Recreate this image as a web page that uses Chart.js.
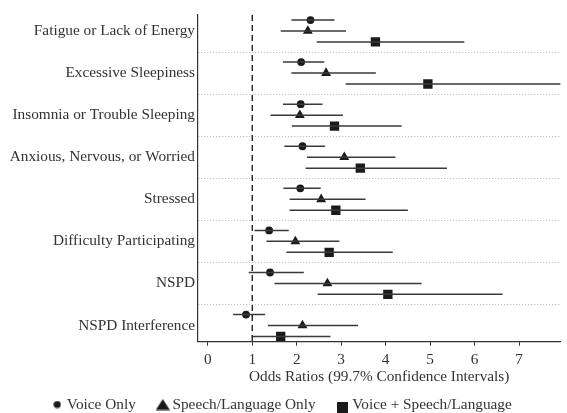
<!DOCTYPE html>
<html>
<head>
<meta charset="utf-8">
<script src="https://cdn.jsdelivr.net/npm/chart.js@4"></script>
<style>
  html, body { margin: 0; padding: 0; background: #fff; }
  #wrap { width: 567px; height: 413px; position: relative; }
</style>
</head>
<body>
<div id="wrap"><canvas id="chart"></canvas></div>
<script>
// 数据
const categories = [
    'Fatigue or Lack of Energy',
    'Excessive Sleepiness',
    'Insomnia or Trouble Sleeping',
    'Anxious, Nervous, or Worried',
    'Stressed',
    'Difficulty Participating',
    'NSPD',
    'NSPD Interference'
];
const seriesNames = ['Voice Only', 'Speech/Language Only', 'Voice + Speech/Language'];

const voiceOR  = [2.31, 2.10, 2.09, 2.13, 2.08, 1.38, 1.40, 0.86];
const voiceLo  = [1.88, 1.69, 1.69, 1.72, 1.70, 1.05, 0.92, 0.57];
const voiceHi  = [2.85, 2.62, 2.58, 2.64, 2.54, 1.82, 2.16, 1.29];

const speechOR = [2.25, 2.66, 2.07, 3.07, 2.55, 1.97, 2.69, 2.13];
const speechLo = [1.64, 1.88, 1.41, 2.23, 1.84, 1.32, 1.50, 1.35];
const speechHi = [3.11, 3.78, 3.04, 4.22, 3.55, 2.96, 4.81, 3.38];

const bothOR   = [3.77, 4.95, 2.85, 3.43, 2.88, 2.73, 4.05, 1.64];
const bothLo   = [2.45, 3.10, 1.89, 2.20, 1.84, 1.77, 2.47, 0.99];
const bothHi   = [5.77, 8.60, 4.36, 5.38, 4.50, 4.16, 6.63, 2.76];

const xTicks = [0, 1, 2, 3, 4, 5, 6, 7];
const refLine = 1;

// 样式
const FONT = "'Liberation Serif', 'DejaVu Serif', serif";
const FONT_SIZE = 15.3;
const TEXT = '#333333';
const MARK = '#1a1a1a';
const CI_COLOR = '#3a3a3a';
const X_MIN = -0.22, X_MAX = 7.93;
const Y_MIN = 0.62, Y_MAX = 8.385;
const offsets = [-0.26, 0, 0.26];
const styles = [
    { pointStyle: 'circle', radius: 3.9 },
    { pointStyle: 'triangle', radius: 5.7 },
    { pointStyle: 'rect', radius: 6.6 }
];

const seriesData = [
    { or: voiceOR, lo: voiceLo, hi: voiceHi },
    { or: speechOR, lo: speechLo, hi: speechHi },
    { or: bothOR, lo: bothLo, hi: bothHi }
];

// 图例图标 (大小各不相同)
function makeIcon(w, h, draw) {
    const c = document.createElement('canvas');
    c.width = w;
    c.height = h;
    const g = c.getContext('2d');
    g.fillStyle = MARK;
    draw(g);
    return c;
}
const legendIcons = [
    makeIcon(8, 8, g => { g.beginPath(); g.arc(4, 4, 3.6, 0, Math.PI * 2); g.fill(); }),
    makeIcon(14, 12, g => { g.beginPath(); g.moveTo(7, 0.5); g.lineTo(14, 11.5); g.lineTo(0, 11.5); g.closePath(); g.fill(); }),
    makeIcon(11, 17, g => { g.fillRect(0, 6, 11, 11); })
];

const datasets = [];

// 参考线 (OR = 1)
datasets.push({
    type: 'scatter',
    showLine: true,
    data: [{ x: refLine, y: Y_MIN }, { x: refLine, y: Y_MAX }],
    borderColor: '#111',
    borderWidth: 1.3,
    borderDash: [6, 4],
    pointRadius: 0,
    isMarker: false
});

// 置信区间
seriesData.forEach((s, si) => {
    const pts = [];
    categories.forEach((c, i) => {
        const y = i + 1 + offsets[si];
        pts.push({ x: s.lo[i], y: y }, { x: s.hi[i], y: y }, { x: null, y: null });
    });
    datasets.push({
        type: 'scatter',
        showLine: true,
        spanGaps: false,
        data: pts,
        borderColor: CI_COLOR,
        borderWidth: 1.5,
        pointRadius: 0,
        isMarker: false
    });
});

// 点估计
seriesData.forEach((s, si) => {
    datasets.push({
        type: 'scatter',
        label: seriesNames[si],
        data: s.or.map((v, i) => ({ x: v, y: i + 1 + offsets[si] })),
        pointStyle: styles[si].pointStyle,
        pointRadius: styles[si].radius,
        pointHoverRadius: styles[si].radius,
        backgroundColor: MARK,
        borderColor: MARK,
        borderWidth: 0,
        seriesIndex: si,
        isMarker: true
    });
});

new Chart(document.getElementById('chart'), {
    type: 'scatter',
    data: { datasets: datasets },
    options: {
        responsive: true,
        maintainAspectRatio: false,
        animation: false,
        layout: { padding: { top: 15, left: 0, right: 0, bottom: -9.15 } },
        plugins: {
            tooltip: { enabled: false },
            legend: {
                position: 'bottom',
                labels: {
                    generateLabels: (chart) => {
                        const items = Chart.defaults.plugins.legend.labels.generateLabels(chart);
                        return items
                            .filter(it => chart.data.datasets[it.datasetIndex].isMarker)
                            .map(it => {
                                it.pointStyle = legendIcons[chart.data.datasets[it.datasetIndex].seriesIndex];
                                return it;
                            });
                    },
                    usePointStyle: true,
                    boxWidth: 4,
                    boxHeight: 8,
                    padding: 25,
                    color: TEXT,
                    font: { family: FONT, size: FONT_SIZE }
                }
            }
        },
        scales: {
            x: {
                type: 'linear',
                min: X_MIN,
                max: X_MAX,
                afterBuildTicks: (scale) => { scale.ticks = xTicks.map(v => ({ value: v })); },
                ticks: {
                    includeBounds: false,
                    color: TEXT,
                    padding: 5.4,
                    font: { family: FONT, size: FONT_SIZE }
                },
                grid: {
                    drawOnChartArea: false,
                    drawTicks: true,
                    tickLength: 4,
                    tickColor: '#333'
                },
                border: { display: true, color: '#333', width: 1.2 },
                title: {
                    display: true,
                    text: 'Odds Ratios (99.7% Confidence Intervals)',
                    color: TEXT,
                    padding: { top: 0, bottom: -14.8 },
                    font: { family: FONT, size: FONT_SIZE }
                },
                afterFit: (scale) => { scale.height = 30.15; }
            },
            y: {
                type: 'linear',
                reverse: true,
                min: Y_MIN,
                max: Y_MAX,
                ticks: {
                    stepSize: 0.5,
                    includeBounds: false,
                    autoSkip: false,
                    color: TEXT,
                    padding: 3,
                    font: { family: FONT, size: FONT_SIZE },
                    callback: (v) => Number.isInteger(v) ? categories[v - 1] : ''
                },
                grid: {
                    drawTicks: false,
                    color: (ctx) => (ctx.tick && !Number.isInteger(ctx.tick.value)) ? '#b5b5b5' : 'rgba(0,0,0,0)',
                    lineWidth: 1
                },
                border: { display: true, color: '#333', width: 1.2, dash: [1, 2] },
                afterFit: (scale) => { scale.width = 198; }
            }
        }
    }
});
</script>
</body>
</html>
